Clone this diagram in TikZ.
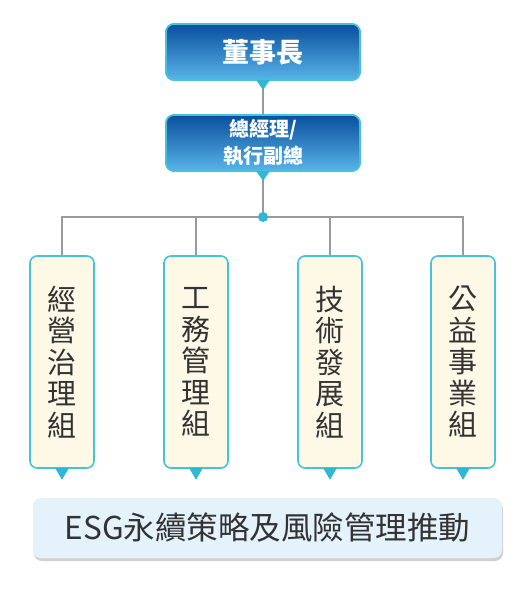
\documentclass[tikz,border=0pt]{standalone}
\usepackage{fontspec}
\setmainfont{Noto Sans CJK TC}
\begin{document}
\begin{tikzpicture}[x=1pt,y=-1pt,
  headbox/.style={draw=cyanedge, line width=1.6pt, rounded corners=8pt,
    top color=headtop, bottom color=headbot, minimum width=194pt, minimum height=56pt,
    text=white, font=\bfseries, align=center, inner sep=0pt},
  groupbox/.style={draw=cyanedge, line width=1.6pt, rounded corners=7pt, fill=cream,
    minimum width=64pt, minimum height=212pt, text=txtgray, align=center,
    font=\fontsize{29}{31.5}\selectfont, inner sep=0pt},
  conn/.style={draw=linegray, line width=1.4pt},
  pointer/.style={fill=cyanptr, draw=none}
]
\definecolor{cyanedge}{HTML}{45C3DA}
\definecolor{cyanptr}{HTML}{2FB7D3}
\definecolor{headtop}{HTML}{0A4F9E}
\definecolor{headbot}{HTML}{58B4E8}
\definecolor{cream}{HTML}{FDF9E6}
\definecolor{txtgray}{HTML}{333333}
\definecolor{linegray}{HTML}{9A9A9A}
\definecolor{esgfill}{HTML}{E4F2FC}
\useasboundingbox (0,0) rectangle (528,592);
\fill[white] (0,0) rectangle (528,592);

\coordinate (hub) at (263,217);
\node[headbox, font=\bfseries\fontsize{27}{30}\selectfont] (top) at (263,52) {董事長};
\node[headbox, font=\bfseries\fontsize{20}{27}\selectfont] (mid) at (263,143) {總經理/\\執行副總};
\node[groupbox] (g1) at (62,362) {經\\營\\治\\理\\組};
\node[groupbox] (g2) at (196,362) {工\\務\\管\\理\\組};
\node[groupbox] (g3) at (330,362) {技\\術\\發\\展\\組};
\node[groupbox] (g4) at (463,362) {公\\益\\事\\業\\組};

% connectors
\draw[conn] (top.south) -- (mid.north);
\draw[conn] (mid.south) -- (hub);
\draw[conn] (g1.north) |- (hub) -| (g4.north);
\draw[conn] (g2.north) -- (g2.north |- hub);
\draw[conn] (g3.north) -- (g3.north |- hub);
\fill[cyanptr] (hub) circle (5pt);

% redraw boxes over connector ends
\node[headbox, font=\bfseries\fontsize{27}{30}\selectfont] at (top) {董事長};
\node[headbox, font=\bfseries\fontsize{20}{27}\selectfont] at (mid) {總經理/\\執行副總};

% pointers
\foreach \n in {top,mid}{
  \fill[pointer] ([xshift=-7pt,yshift=1pt]\n.south) -- ([xshift=7pt,yshift=1pt]\n.south) -- ([yshift=-9pt]\n.south) -- cycle;
}
\foreach \n in {g1,g2,g3,g4}{
  \fill[pointer] ([xshift=-7pt,yshift=1pt]\n.south) -- ([xshift=7pt,yshift=1pt]\n.south) -- ([yshift=-11pt]\n.south) -- cycle;
}

% ESG bar
\fill[black!18, rounded corners=8pt] (34,501) rectangle (503,561);
\node[fill=esgfill, rounded corners=8pt, minimum width=469pt, minimum height=60pt,
  inner sep=0pt, text=txtgray, font=\fontsize{31.5}{33}\selectfont] (esg) at (267.5,528)
  {ESG永續策略及風險管理推動};
\end{tikzpicture}
\end{document}
